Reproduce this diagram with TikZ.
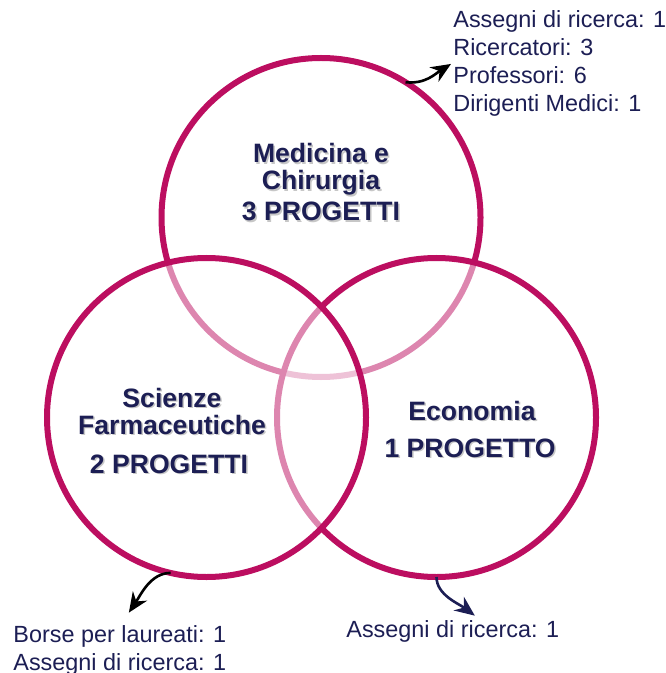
\documentclass[tikz,border=0pt]{standalone}
\usepackage{fontspec}
\setmainfont{Liberation Sans}
\usepackage{tikz}
\usetikzlibrary{
    shapes.geometric,
    arrows.meta,
    positioning,
    calc
}
\definecolor{vennpink}{RGB}{188, 14, 96}
\definecolor{venntext}{RGB}{28, 30, 84}

\begin{document}
\begin{tikzpicture}[x=0.5pt, y=-0.5pt,
    ring/.style={draw=vennpink, line width=3pt, fill=white, fill opacity=0.5, outer sep=0pt, inner sep=0pt},
    circtitle/.style={font=\bfseries\fontsize{13.3}{13.5}\selectfont, text=venntext, align=center, anchor=base, inner sep=0pt},
    infotxt/.style={font=\fontsize{11.7}{14}\selectfont, text=venntext, align=left, anchor=base west, inner sep=1pt},
    pointer/.style={line width=1.3pt, -{Stealth[length=10pt, width=8.5pt]}}]
    \useasboundingbox (0,0) rectangle (665,673);

    % the three rings (drawn top, right, left)
    \node[ring, circle, minimum size=159.5pt] (med) at (321,217.5) {};
    \node[ring, circle, minimum size=159.5pt] (econ) at (436.5,417.5) {};
    \node[ring, circle, minimum size=159.5pt] (farm) at (206.5,417.5) {};

    % titles with shadow (base = last line)
    \foreach \nm/\px/\py/\txt in {medname/321/190/{Medicina e\\Chirurgia}, medcount/321/221/{3 PROGETTI},
        farmname/172/434/{Scienze\\Farmaceutiche}, farmcount/169/473/{2 PROGETTI},
        econname/472/420/{Economia}, econcount/470/457/{1 PROGETTO}} {
        \node[circtitle, text=black!22] (\nm-sh) at (\px+1.5,\py+1.5) {\txt};
        \node[circtitle] (\nm) at (\px,\py) {\txt};
    }

    % details
    \node[infotxt] (medinfo) at (451,112) {Assegni di ricerca: 1\\Ricercatori: 3\\Professori: 6\\Dirigenti Medici: 1};
    \node[infotxt] (farminfo) at (11,670) {Borse per laureati: 1\\Assegni di ricerca: 1};
    \node[infotxt] (econinfo) at (344,637) {Assegni di ricerca: 1};

    \draw[pointer] (med.58) .. controls +(20,2) and +(-16,10) .. (medinfo.west);
    \draw[pointer] (farm.257) .. controls +(-20,0) and +(12,-18) .. ($(farminfo.north)+(9,-10)$);
    \draw[pointer, venntext] (econ.270) .. controls +(0,18) and +(-16,-12) .. ($(econinfo.north)+(22,-2)$);
\end{tikzpicture}
\end{document}
